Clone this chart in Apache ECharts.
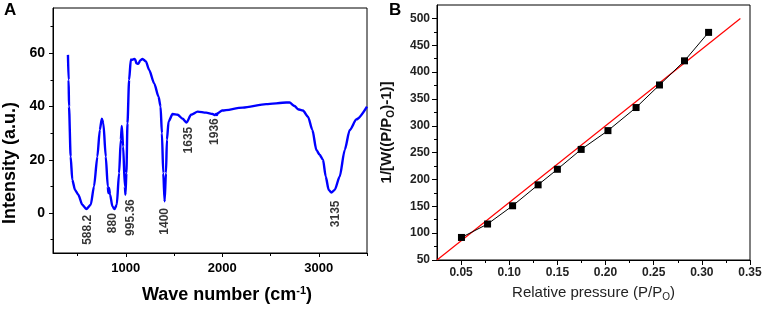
<!DOCTYPE html>
<html>
<head>
<meta charset="utf-8">
<script src="https://cdn.jsdelivr.net/npm/echarts@6/dist/echarts.min.js"></script>
<style>
html,body{margin:0;padding:0;background:#fff;}
#c{width:765px;height:309px;}
</style>
</head>
<body>
<div id="c"></div>
<script>
// ---- Panel A data (FTIR spectrum) ----
const waveNumber = [400,407,411,428,445,473,507,549,590,636,670,705,730,751,767,792,813,819,826,836,861,882,906,930,948,958,972,990,996,1006,1017,1034,1052,1062,1076,1090,1097,1110,1128,1150,1173,1208,1242,1294,1339,1360,1374,1388,1402,1416,1426,1443,1485,1537,1589,1630,1676,1745,1832,1900,1920,1936,1945,1952,1998,2212,2455,2663,2697,2749,2784,2836,2888,2934,2975,3009,3044,3072,3103,3131,3165,3217,3269,3321,3391,3500];
const intensity  = [59.4,50,40,21.2,12.5,8.7,6.9,3.1,1.5,3.1,10,21.2,31.2,35.4,33.7,21.2,10,7.5,9.4,7,2.5,1.5,3.1,15,27.5,32.7,25,10,6.9,15,33.7,50,57.7,57.5,57.7,57.9,57.7,56.2,56,57.3,57.9,56.9,53.7,48.7,43.7,40,30,15,4.4,15,27.5,34.4,37.2,36.9,35.4,34,36.9,38.1,37.7,37.2,36.8,37.2,36.8,37.5,38.5,39.6,40.9,41.5,41.5,40.2,39,38.5,36.2,31.2,23.7,21.9,20,13.7,8.7,7.7,8.7,13.7,23.7,31.2,35.2,40];
const peakText   = ['588.2','880','995.36','1400','1635','1936','3135'];
const peakLabelX = [601,861,1052,1405,1648,1926,3172];
const peakLabelY = [-6.3,-3.8,-1.7,-3.1,27.4,30.6,-0.3];
const aXTicks = [1000,2000,3000];
const aXMinor = [500,1500,2500,3500];
const aYTicks = [0,20,40,60];
const aYMinor = [-10,10,30,50,70];

// ---- Panel B data (BET plot) ----
const relPressure = [0.0504,0.0775,0.1035,0.130,0.150,0.1747,0.2025,0.2317,0.256,0.282,0.307];
const betValue    = [92,117,151,190,219,256,291,334,376,421,474];
const fitX = [0.025,0.34];
const fitY = [50,500];
const bXTicks = [0.05,0.10,0.15,0.20,0.25,0.30,0.35];
const bXMinor = [0.075,0.125,0.175,0.225,0.275,0.325];
const bYTicks = [50,100,150,200,250,300,350,400,450,500];
const bYMinor = [75,125,175,225,275,325,375,425,475];

const FONT = '"Liberation Sans", Arial, sans-serif';
const zip = (a,b)=>a.map((v,i)=>[v,b[i]]);

function mainAxis(o){
  return Object.assign({
    type:'value', gridIndex:o.grid, position:o.pos, min:o.min, max:o.max,
    splitLine:{show:false},
    axisLine:{show:true,onZero:false,lineStyle:{color:'#000',width:1}},
    axisTick:{show:true,inside:false,length:o.tl,customValues:o.ticks,lineStyle:{color:'#000',width:1}},
    axisLabel:{show:true,customValues:o.ticks,margin:o.margin,fontFamily:FONT,fontSize:o.fs,fontWeight:'bold',color:o.color,
      formatter:o.fmt||(v=>String(v))}
  }, o.extra||{});
}
function minorAxis(o){
  return {
    type:'value', gridIndex:o.grid, position:o.pos, min:o.min, max:o.max,
    splitLine:{show:false},
    axisLine:{show:false,onZero:false},
    axisTick:{show:true,inside:false,length:o.tl,customValues:o.ticks,lineStyle:{color:'#000',width:1}},
    axisLabel:{show:false}
  };
}

const option = {
  animation:false,
  backgroundColor:'#fff',
  grid:[
    {left:53,top:8,width:314,height:245,show:true,borderColor:'#000',borderWidth:1,backgroundColor:'transparent'},
    {left:437,top:5,width:313,height:255,show:true,borderColor:'#000',borderWidth:1,backgroundColor:'transparent'}
  ],
  xAxis:[
    mainAxis({grid:0,pos:'bottom',min:245,max:3500,tl:4,ticks:aXTicks,margin:9,fs:13,color:'#000'}),
    minorAxis({grid:0,pos:'bottom',min:245,max:3500,tl:3,ticks:aXMinor}),
    mainAxis({grid:1,pos:'bottom',min:0.025,max:0.35,tl:5,ticks:bXTicks,margin:7,fs:12,color:'#222',
      fmt:v=>v.toFixed(2),
      extra:{name:'Relative pressure (P/P{s|O})',nameLocation:'middle',nameGap:24,
        nameTextStyle:{fontFamily:FONT,fontSize:15,color:'#222',
          rich:{s:{fontFamily:FONT,fontSize:10,color:'#222',verticalAlign:'bottom',padding:[8,0,0,0]}}}}}),
    minorAxis({grid:1,pos:'bottom',min:0.025,max:0.35,tl:3,ticks:bXMinor})
  ],
  yAxis:[
    mainAxis({grid:0,pos:'left',min:-15,max:77,tl:4,ticks:aYTicks,margin:8,fs:14,color:'#000'}),
    minorAxis({grid:0,pos:'left',min:-15,max:77,tl:2.5,ticks:aYMinor}),
    mainAxis({grid:1,pos:'left',min:50,max:525,tl:5,ticks:bYTicks,margin:7,fs:12,color:'#222',
      extra:{name:'1/[W((P/P{s|O})-1)]',nameLocation:'middle',nameGap:41,
        nameTextStyle:{fontFamily:FONT,fontSize:15,fontWeight:'bold',color:'#111',
          rich:{s:{fontFamily:FONT,fontSize:10,fontWeight:'bold',color:'#111',verticalAlign:'bottom',padding:[8,0,0,0]}}}}}),
    minorAxis({grid:1,pos:'left',min:50,max:525,tl:3,ticks:bYMinor})
  ],
  graphic:[
    {type:'text',left:4,top:2,style:{text:'A',fontFamily:FONT,fontSize:17,fontWeight:'bold',fill:'#000'}},
    {type:'text',left:389,top:2,style:{text:'B',fontFamily:FONT,fontSize:17,fontWeight:'bold',fill:'#000'}},
    {type:'text',x:227,y:295,style:{text:'Wave number (cm{p|-1})',fontFamily:FONT,fontSize:18,fontWeight:'bold',fill:'#000',
      align:'center',verticalAlign:'middle',
      rich:{p:{fontFamily:FONT,fontSize:11,fontWeight:'bold',fill:'#000',verticalAlign:'top',padding:[0,0,8,0]}}}},
    {type:'text',x:10,y:163,rotation:Math.PI/2,style:{text:'Intensity (a.u.)',fontFamily:FONT,fontSize:18,fontWeight:'bold',fill:'#000',
      align:'center',verticalAlign:'middle'}}
  ],
  series:[
    {type:'line',xAxisIndex:0,yAxisIndex:0,data:zip(waveNumber,intensity),showSymbol:false,symbol:'none',
      smooth:0.25,smoothMonotone:'x',lineStyle:{color:'#0000ff',width:2.4},silent:true,z:3},
    {type:'scatter',xAxisIndex:0,yAxisIndex:0,symbolSize:0,silent:true,
      data:peakText.map((t,i)=>({name:t,value:[peakLabelX[i],peakLabelY[i]]})),
      label:{show:true,position:'inside',formatter:p=>p.name,rotate:90,fontFamily:FONT,fontSize:12,fontWeight:'bold',color:'#000',
        align:'center',verticalAlign:'middle'}},
    {type:'line',xAxisIndex:2,yAxisIndex:2,data:zip(fitX,fitY),showSymbol:false,symbol:'none',
      lineStyle:{color:'#ff0000',width:1.2},silent:true,z:2},
    {type:'line',xAxisIndex:2,yAxisIndex:2,data:zip(relPressure,betValue),symbol:'rect',symbolSize:7,showSymbol:true,
      itemStyle:{color:'#000'},lineStyle:{color:'#000',width:1},silent:true,z:3}
  ]
};
const chart = echarts.init(document.getElementById('c'),null,{renderer:'canvas'});
chart.setOption(option);
</script>
</body>
</html>
